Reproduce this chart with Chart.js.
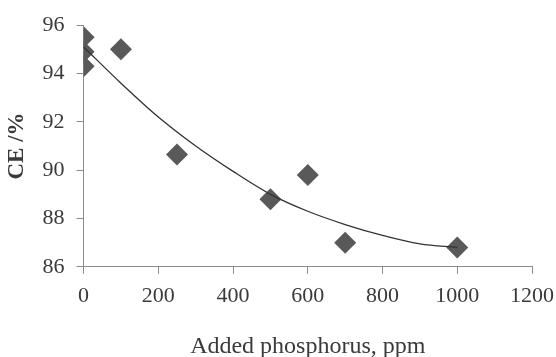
<!DOCTYPE html>
<html>
<head>
<meta charset="utf-8">
<script src="https://cdn.jsdelivr.net/npm/chart.js@4"></script>
<style>
  html, body { margin: 0; padding: 0; background: #fff; }
  #wrap { width: 556px; height: 357px; }
</style>
</head>
<body>
<div id="wrap"><canvas id="myChart" width="556" height="357"></canvas></div>
<script>
// measured points
const phosphorus = [0, 0, 0, 100, 250, 500, 600, 700, 1000];
const ce = [95.5, 94.9, 94.3, 95.0, 90.65, 88.8, 89.8, 87.0, 86.8];

// trendline
const trendX = [0, 100, 200, 300, 400, 500, 600, 700, 800, 900, 1000];
const trendY = [95.1, 93.6, 92.2, 91.0, 89.95, 89.0, 88.3, 87.75, 87.3, 86.95, 86.8];

const xTicks = [0, 200, 400, 600, 800, 1000, 1200];
const yTicks = [86, 88, 90, 92, 94, 96];

const font = 'Liberation Serif, Times New Roman, serif';
const axisColor = '#8c8c8c';
const textColor = '#3a3a3a';

const ctx = document.getElementById('myChart').getContext('2d');

const chart = new Chart(ctx, {
    type: 'scatter',
    data: {
        datasets: [{
            label: 'CE',
            data: phosphorus.map((x, i) => ({x: x, y: ce[i]})),
            pointStyle: 'rectRot',
            pointRadius: 11,
            pointHoverRadius: 11,
            backgroundColor: '#595959',
            borderColor: '#595959',
            borderWidth: 0,
            order: 2
        }, {
            label: 'trend',
            type: 'line',
            data: trendX.map((x, i) => ({x: x, y: trendY[i]})),
            borderColor: '#333',
            borderWidth: 1.3,
            pointRadius: 0,
            fill: false,
            cubicInterpolationMode: 'monotone',
            order: 1
        }]
    },
    options: {
        responsive: false,
        animation: false,
        layout: { padding: { left: -5, right: 0, top: 10, bottom: -4 } },
        plugins: {
            legend: { display: false },
            tooltip: { enabled: false }
        },
        scales: {
            x: {
                type: 'linear',
                min: 0,
                max: 1200,
                afterBuildTicks: axis => { axis.ticks = xTicks.map(v => ({value: v})); },
                afterFit: axis => { axis.paddingRight = 24; axis.paddingLeft = 0; },
                grid: { drawOnChartArea: false, color: axisColor, tickLength: 7 },
                border: { color: axisColor, width: 1 },
                ticks: { color: textColor, font: { family: font, size: 22 }, padding: 9, maxRotation: 0,
                         callback: v => String(v) },
                title: {
                    display: true,
                    text: 'Added phosphorus, ppm',
                    color: textColor,
                    font: { family: font, size: 24 },
                    padding: { top: 14, bottom: 0 }
                }
            },
            y: {
                min: 86,
                max: 96,
                afterBuildTicks: axis => { axis.ticks = yTicks.map(v => ({value: v})); },
                grid: { drawOnChartArea: false, color: axisColor, tickLength: 7 },
                border: { color: axisColor, width: 1 },
                ticks: { color: textColor, font: { family: font, size: 22 }, padding: 12,
                         callback: v => String(v) },
                title: {
                    display: true,
                    text: 'CE /%',
                    color: textColor,
                    font: { family: font, size: 23, weight: 'bold' },
                    padding: { top: 8, bottom: 0 }
                }
            }
        }
    }
});
</script>
</body>
</html>
